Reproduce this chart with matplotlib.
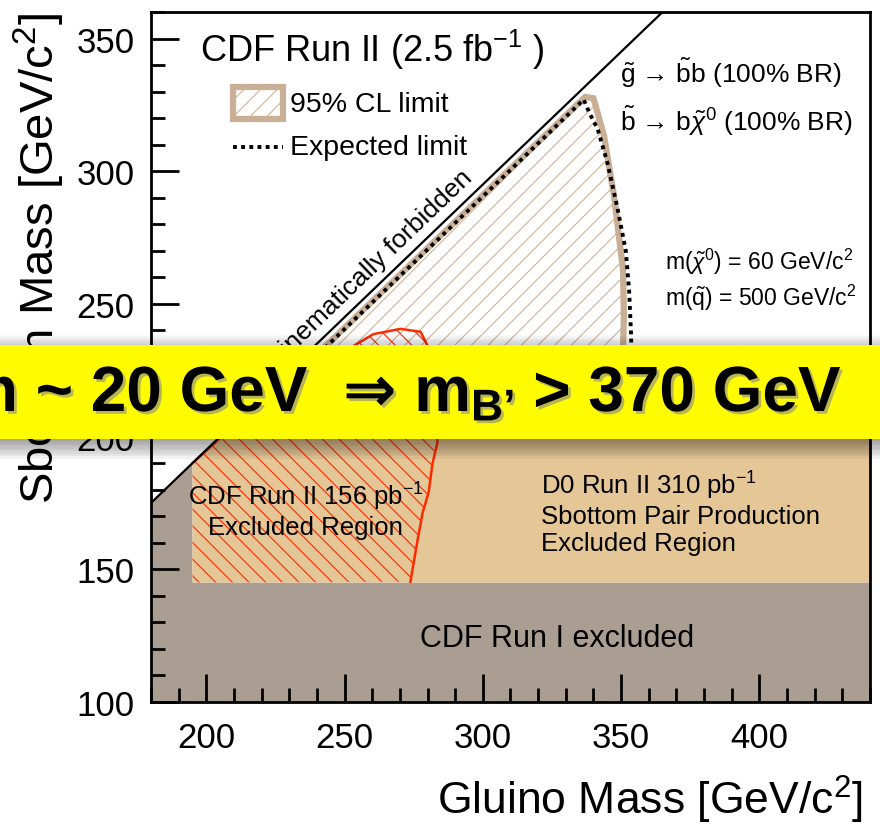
import matplotlib
matplotlib.use("Agg")
import matplotlib.pyplot as plt
import matplotlib.patheffects as pe
from matplotlib.patches import Polygon, Rectangle
from matplotlib.ticker import MultipleLocator

# =====================
# Style
# =====================

plt.rcParams["font.family"] = ["Liberation Sans", "DejaVu Sans"]
plt.rcParams["mathtext.fontset"] = "custom"
plt.rcParams["mathtext.rm"] = "Liberation Sans"
plt.rcParams["mathtext.it"] = "Liberation Sans:italic"
plt.rcParams["mathtext.bf"] = "Liberation Sans:bold"
plt.rcParams["hatch.linewidth"] = 0.8

GRAY = "#aa9e93"
TAN = "#e4c697"
BAND = "#c8af95"
HATCH_TAN = "#d2b296"
RED = "#ff2a00"

# =====================
# Data
# =====================

x_range = [180, 440]
y_range = [100, 360]

# kinematic limit  m(sbottom) = m(gluino) - m(b)
kin_x = [180, 365]
kin_y = [175, 360]

# CDF Run I excluded (gray)
run1_x = [180, 440, 440, 195, 195, 180]
run1_y = [100, 100, 145, 145, 190, 175]

# D0 Run II 310 pb-1 (tan)
d0_x = [195, 440, 440, 227, 195]
d0_y = [145, 145, 222, 222, 190]

# CDF Run II 156 pb-1 (red hatched)
cdf156_x = [195, 204, 228, 252, 260.4, 270.2, 277.5, 280.4, 283.5, 283.6, 281.8, 280.4, 278.2, 276.4, 273.8]
cdf156_y = [190, 198.5, 221, 233.4, 238.6, 240.6, 239.5, 233.4, 215, 197.8, 189.9, 179, 171.2, 161, 145.3]

# 95% CL observed limit
obs_x = [228, 337, 340, 341.5, 343.8, 347.4, 350.7, 351, 350.7, 350.5]
obs_y = [219, 328, 327.5, 322, 313.5, 291, 263, 245, 233.3, 219]

# expected limit
exp_x = [228, 336.5, 338.5, 341.5, 345, 348.7, 351.7, 352.9, 353.6, 354]
exp_y = [218.5, 327, 322, 316, 303.4, 286, 270, 255, 238.6, 219]

# =====================
# Figure
# =====================

fig = plt.figure(figsize=(8.8, 8.28), dpi=100)
ax = fig.add_axes([0.1716, 0.151, 0.817, 0.8333])
ax.set_xlim(x_range)
ax.set_ylim(y_range)

ax.add_patch(Polygon(list(zip(run1_x, run1_y)), closed=True, facecolor=GRAY, edgecolor="none", zorder=1))

# observed limit hatch (under the D0 band)
ax.add_patch(Polygon(list(zip(obs_x, obs_y)), closed=True, facecolor="none", edgecolor=HATCH_TAN,
                     hatch="//", linewidth=0, zorder=1.5))

ax.add_patch(Polygon(list(zip(d0_x, d0_y)), closed=True, facecolor=TAN, edgecolor="none", zorder=2))

# CDF 156 pb-1 region
ax.add_patch(Polygon(list(zip(cdf156_x + [195], cdf156_y + [145])), closed=True, facecolor="none",
                     edgecolor=RED, hatch="\\\\", linewidth=0, zorder=3))
ax.plot(cdf156_x, cdf156_y, color=RED, lw=1.8, zorder=4)

# limits
ax.plot(obs_x, obs_y, color=BAND, lw=4.5, solid_joinstyle="miter", zorder=5)
ax.plot(exp_x, exp_y, color="black", lw=2.8, ls=(0, (1, 1.1)), zorder=6)

ax.plot(kin_x, kin_y, color="black", lw=1.6, zorder=6)
ax.text(298, 296, "Kinematically forbidden", fontsize=19, rotation=45, transform_rotates_text=True,
        rotation_mode="anchor", ha="right", va="bottom", zorder=7)

# =====================
# Axes styling
# =====================

ax.xaxis.set_major_locator(MultipleLocator(50))
ax.xaxis.set_minor_locator(MultipleLocator(10))
ax.yaxis.set_major_locator(MultipleLocator(50))
ax.yaxis.set_minor_locator(MultipleLocator(10))
ax.tick_params(which="both", direction="in", top=False, right=False, width=2, labelsize=25)
ax.tick_params(which="major", length=20)
ax.tick_params(which="minor", length=10)
ax.tick_params(axis="x", pad=14)
ax.tick_params(axis="y", pad=12)
for sp in ax.spines.values():
    sp.set_linewidth(2)
    sp.set_zorder(10)

ax.set_xlabel("Gluino Mass [GeV/c$^2$]", fontsize=32, loc="right")
ax.xaxis.set_label_coords(0.99, -0.103)
ax.set_ylabel("Sbottom Mass [GeV/c$^2$]", fontsize=34, loc="top")
ax.yaxis.set_label_coords(-0.117, 1.0)

# =====================
# Legend and labels
# =====================

ax.text(0.068, 0.946, "CDF Run II (2.5 fb$^{-1}$ )", transform=ax.transAxes, fontsize=26, va="center")

ax.add_patch(Rectangle((0.114, 0.845), 0.07, 0.046, transform=ax.transAxes, facecolor="white",
                       edgecolor=BAND, lw=4.5, zorder=8))
ax.add_patch(Rectangle((0.114, 0.845), 0.07, 0.046, transform=ax.transAxes, facecolor="none",
                       edgecolor=HATCH_TAN, hatch="//", lw=0, zorder=8))
ax.text(0.193, 0.866, "95% CL limit", transform=ax.transAxes, fontsize=20.5, va="center")
ax.plot([0.114, 0.184], [0.804, 0.804], transform=ax.transAxes, color="black", lw=2.8, ls=(0, (1, 1.1)))
ax.text(0.193, 0.804, "Expected limit", transform=ax.transAxes, fontsize=20.5, va="center")

ax.text(0.652, 0.913, "$\\tilde{\\mathrm{g}}$ \u2192 $\\tilde{\\mathrm{b}}$b (100% BR)",
        transform=ax.transAxes, fontsize=19, va="center")
ax.text(0.652, 0.843, "$\\tilde{\\mathrm{b}}$ \u2192 b$\\tilde{\\chi}^{0}$ (100% BR)",
        transform=ax.transAxes, fontsize=19, va="center")
ax.text(0.715, 0.639, r"m($\tilde{\chi}^{0}$) = 60 GeV/c$^2$", transform=ax.transAxes, fontsize=16.5, va="center")
ax.text(0.715, 0.587, r"m($\tilde{\mathrm{q}}$) = 500 GeV/c$^2$", transform=ax.transAxes, fontsize=16.5, va="center")

ax.text(236, 172.5, "CDF Run II 156 pb$^{-1}$\nExcluded Region", fontsize=18.5, ha="center", va="center",
        linespacing=1.15, zorder=7)
ax.text(321, 171.5, "D0 Run II 310 pb$^{-1}$\nSbottom Pair Production\nExcluded Region", fontsize=18.5,
        ha="left", va="center", linespacing=1.15, zorder=7)
ax.text(327, 124, "CDF Run I excluded", fontsize=22, ha="center", va="center", zorder=7)

# =====================
# Yellow banner
# =====================

y0, y1 = 1 - 440 / 828, 1 - 346 / 828
for i in range(8):
    fig.patches.append(Rectangle((0, y0 - 0.003 * (i + 1)), 1, 0.003 * (i + 1), transform=fig.transFigure,
                                 facecolor="black", alpha=0.05, edgecolor="none", zorder=20))
    fig.patches.append(Rectangle((0, y1), 1, 0.0015 * (i + 1), transform=fig.transFigure,
                                 facecolor="black", alpha=0.025, edgecolor="none", zorder=20))
fig.patches.append(Rectangle((0, y0), 1, y1 - y0, transform=fig.transFigure, facecolor="#fffc00",
                             edgecolor="none", zorder=21))

bfont = ["Liberation Sans Narrow", "Liberation Sans", "DejaVu Sans"]
shadow = [pe.SimplePatchShadow(offset=(2, -2), shadow_rgbFace="#888888", alpha=0.6), pe.Normal()]
ty = 1 - 395 / 828
renderer = fig.canvas.get_renderer()
t3 = fig.text(0.955, ty, " > 370 GeV", ha="right", va="center", fontsize=46, fontweight="bold",
              family=bfont, path_effects=shadow, zorder=22)
left = t3.get_window_extent(renderer).x0 / fig.bbox.width
t2 = fig.text(left, ty - 0.018, "B\u2019", ha="right", va="center", fontsize=32, fontweight="bold",
              family=bfont, path_effects=shadow, zorder=22)
left = t2.get_window_extent(renderer).x0 / fig.bbox.width
fig.text(left, ty, "m ~ 20 GeV  \u21d2 m", ha="right", va="center", fontsize=46, fontweight="bold",
         family=bfont, path_effects=shadow, zorder=22)

fig.savefig("out.png", dpi=100)
